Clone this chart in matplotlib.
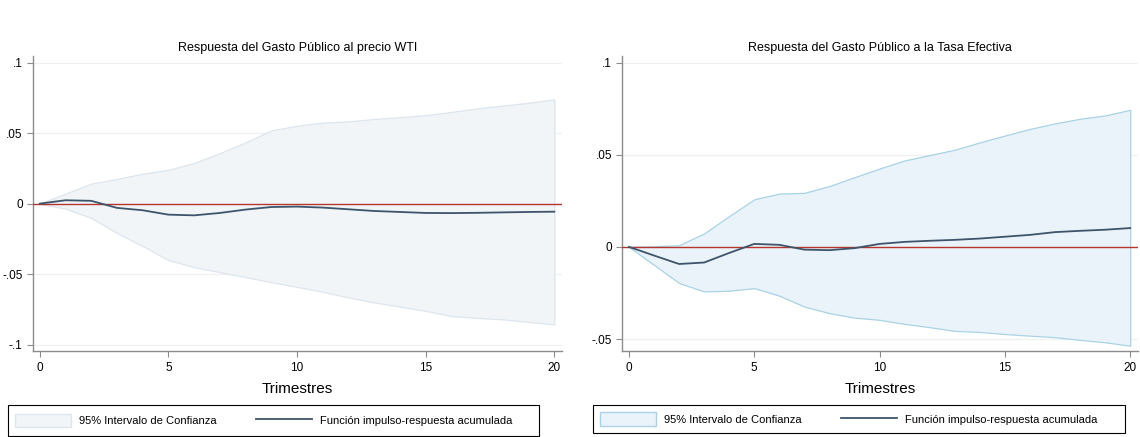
import numpy as np
import matplotlib.pyplot as plt
from matplotlib.patches import Patch, Rectangle
from matplotlib.lines import Line2D

plt.rcParams['font.family'] = ['Liberation Sans', 'DejaVu Sans']

# Horizons (quarters)
steps = list(range(21))

# Left panel: response to WTI price
wti_irf = [0, 0.0024, 0.002, -0.003, -0.0047, -0.0078, -0.0083, -0.0066, -0.0042, -0.0024, -0.0021,
           -0.0028, -0.004, -0.0052, -0.0059, -0.0066, -0.0067, -0.0065, -0.0062, -0.0059, -0.0057]
wti_upper = [0, 0.0071, 0.0142, 0.0175, 0.0212, 0.024, 0.0288, 0.0358, 0.0434, 0.0519, 0.0552,
             0.0575, 0.0583, 0.060, 0.0613, 0.0627, 0.065, 0.0675, 0.0695, 0.0715, 0.074]
wti_lower = [0, -0.0035, -0.0101, -0.0208, -0.030, -0.040, -0.045, -0.0486, -0.052, -0.0557, -0.059,
             -0.0625, -0.0665, -0.070, -0.073, -0.076, -0.0797, -0.081, -0.082, -0.0838, -0.0856]

# Right panel: response to effective rate
tasa_irf = [0, -0.0047, -0.0093, -0.0085, -0.0033, 0.0016, 0.0011, -0.0015, -0.0018, -0.0007, 0.0016,
            0.0027, 0.0033, 0.0038, 0.0045, 0.0055, 0.0065, 0.008, 0.0087, 0.0093, 0.0102]
tasa_upper = [0, 0.0003, 0.0009, 0.0073, 0.0167, 0.0258, 0.0289, 0.0293, 0.033, 0.0378, 0.0425,
              0.0469, 0.0498, 0.0527, 0.0567, 0.0604, 0.064, 0.067, 0.0695, 0.0713, 0.0744]
tasa_lower = [0, -0.0098, -0.0196, -0.0242, -0.0238, -0.0224, -0.0265, -0.0324, -0.036, -0.0384, -0.0396,
              -0.0418, -0.0436, -0.0456, -0.0462, -0.0473, -0.0482, -0.049, -0.0505, -0.0518, -0.0536]

titles = ['Respuesta del Gasto Público al precio WTI',
          'Respuesta del Gasto Público a la Tasa Efectiva']
yticks_left = [-0.1, -0.05, 0, 0.05, 0.1]
ylabels_left = ['-.1', '-.05', '0', '.05', '.1']
yticks_right = [-0.05, 0, 0.05, 0.1]
ylabels_right = ['-.05', '0', '.05', '.1']

fig = plt.figure(figsize=(11.4, 4.37), dpi=100)
ax1 = fig.add_axes([0.029, 0.196, 0.464, 0.676])
ax2 = fig.add_axes([0.546, 0.196, 0.452, 0.676])

panels = [
    (ax1, wti_irf, wti_upper, wti_lower, '#f1f5f8', '#dde6ee', yticks_left, ylabels_left, (-0.1047, 0.1047)),
    (ax2, tasa_irf, tasa_upper, tasa_lower, '#eaf3f9', '#a9d3e5', yticks_right, ylabels_right, (-0.0567, 0.1036)),
]

line_col = '#3e546b'
for i, (ax, irf, up, lo, fc, ec, yt, yl, ylim) in enumerate(panels):
    ax.fill_between(steps, lo, up, facecolor=fc, edgecolor=ec, linewidth=0.9, zorder=1)
    ax.axhline(0, color='#b5362c', linewidth=1.0, zorder=3)
    ax.plot(steps, irf, color=line_col, linewidth=1.3, zorder=4)
    ax.set_xlim(-0.26, 20.3)
    ax.set_ylim(*ylim)
    ax.set_xticks([0, 5, 10, 15, 20])
    ax.set_yticks(yt)
    ax.set_yticklabels(yl)
    ax.grid(axis='y', color='#eef0f2', linewidth=0.9, zorder=0)
    ax.set_axisbelow(True)
    for s in ['top', 'right']:
        ax.spines[s].set_visible(False)
    for s in ['left', 'bottom']:
        ax.spines[s].set_color('#8c8c8c')
        ax.spines[s].set_linewidth(1.0)
    ax.tick_params(colors='#8c8c8c', labelcolor='black', labelsize=8.5, length=4)
    ax.set_title(titles[i], fontsize=9, pad=3.5)
    ax.set_xlabel('Trimestres', fontsize=11, labelpad=6)

handles_left = [Patch(facecolor='#f1f5f8', edgecolor='#dde6ee'),
                Line2D([], [], color=line_col, linewidth=1.3)]
handles_right = [Patch(facecolor='#eaf3f9', edgecolor='#a9d3e5'),
                 Line2D([], [], color=line_col, linewidth=1.3)]
labels = ['95% Intervalo de Confianza', 'Función impulso-respuesta acumulada']

# legend boxes (frame drawn separately, in pixels of the 1140x437 figure)
W, H = 1140, 437
for handles, anchor, frame in [(handles_left, (15, 420.5), (8, 405, 539, 436)),
                               (handles_right, (600, 419), (593, 405, 1125, 433))]:
    fig.legend(handles, labels, ncol=2, loc='center left',
               bbox_to_anchor=(anchor[0] / W, 1 - anchor[1] / H),
               fontsize=8, frameon=False, handlelength=5.0, handleheight=1.45,
               handletextpad=0.8, columnspacing=3.5, borderpad=0, borderaxespad=0)
    x0, y0, x1, y1 = frame
    fig.add_artist(Rectangle((x0 / W, 1 - y1 / H), (x1 - x0) / W, (y1 - y0) / H,
                             transform=fig.transFigure, fill=False,
                             edgecolor='black', linewidth=0.8))

fig.savefig('out.png', dpi=100)
